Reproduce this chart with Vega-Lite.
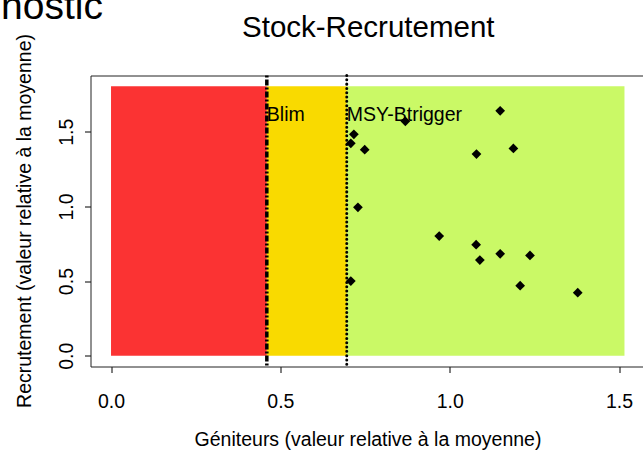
{
  "$schema": "https://vega.github.io/schema/vega-lite/v6.json",
  "autosize": {"type": "none"},
  "padding": {"left": 90.5, "top": 75.5, "right": 0, "bottom": 83.5},
  "width": 552.5,
  "height": 291,
  "background": "white",
  "config": {
    "font": "Liberation Sans",
    "view": {"stroke": null},
    "axis": {"grid": false, "domain": true, "domainColor": "#222222", "domainWidth": 1, "tickColor": "black", "tickSize": 6, "tickWidth": 1, "labelColor": "black", "labelFont": "Liberation Sans", "labelFontSize": 19.5, "titleFont": "Liberation Sans", "titleFontSize": 19.5, "titleFontWeight": "normal", "titleColor": "black"}
  },
  "title": {"text": "Diagnostic", "anchor": "start", "frame": "group", "align": "right", "dx": 12.5, "offset": -45, "fontSize": 39, "fontWeight": "normal", "baseline": "alphabetic", "color": "black", "font": "Liberation Sans"},
  "datasets": {
    "zones": [
      {"zone": "Rouge", "x0": 0, "x1": 0.46, "y0": 0, "y1": 1.805},
      {"zone": "Jaune", "x0": 0.46, "x1": 0.696, "y0": 0, "y1": 1.805},
      {"zone": "Vert", "x0": 0.696, "x1": 1.516, "y0": 0, "y1": 1.805}
    ],
    "refs": [
      {"name": "Blim", "x": 0.46, "label_y": 1.572},
      {"name": "MSY-Btrigger", "x": 0.696, "label_y": 1.572}
    ],
    "points": [
      {"ssb": 1.149, "rec": 1.641},
      {"ssb": 0.869, "rec": 1.570},
      {"ssb": 0.717, "rec": 1.483},
      {"ssb": 0.708, "rec": 1.423},
      {"ssb": 0.749, "rec": 1.380},
      {"ssb": 1.079, "rec": 1.351},
      {"ssb": 1.188, "rec": 1.389},
      {"ssb": 0.729, "rec": 0.994},
      {"ssb": 0.969, "rec": 0.802},
      {"ssb": 1.078, "rec": 0.744},
      {"ssb": 1.089, "rec": 0.641},
      {"ssb": 1.149, "rec": 0.683},
      {"ssb": 1.237, "rec": 0.672},
      {"ssb": 0.708, "rec": 0.500},
      {"ssb": 1.208, "rec": 0.469},
      {"ssb": 1.378, "rec": 0.422}
    ]
  },
  "resolve": {"axis": {"x": "independent", "y": "independent"}},
  "layer": [
    {
      "data": {"name": "zones"},
      "mark": {"type": "rect", "opacity": 1},
      "encoding": {
        "x": {"field": "x0", "type": "quantitative", "scale": {"domain": [-0.0606, 1.5707], "nice": false, "zero": false},
              "axis": {"orient": "bottom", "values": [0, 0.5, 1, 1.5], "format": ".1f", "labelBaseline": "alphabetic", "labelPadding": 34.5, "labelAlign": "center", "labelFlush": false, "labelOverlap": false,
                       "title": "Géniteurs (valeur relative à la moyenne)", "titleX": 277, "titleY": 79, "titleAlign": "center", "titleBaseline": "alphabetic", "titleAnchor": null}},
        "x2": {"field": "x1"},
        "y": {"field": "y0", "type": "quantitative", "scale": {"domain": [-0.0722, 1.8772], "nice": false, "zero": false},
              "axis": {"orient": "left", "values": [0, 0.5, 1, 1.5], "format": ".1f", "labelAngle": 270, "labelAlign": "center", "labelBaseline": "alphabetic", "labelPadding": 12.5, "labelFlush": false, "labelOverlap": false,
                       "title": "Recrutement (valeur relative à la moyenne)", "titleAngle": 270, "titleX": -60.5, "titleY": 145, "titleAlign": "center", "titleBaseline": "alphabetic"}},
        "y2": {"field": "y1"},
        "color": {"field": "zone", "type": "nominal", "scale": {"domain": ["Rouge", "Jaune", "Vert"], "range": ["#FB3333", "#F9DA00", "#CAF966"]}, "legend": null}
      }
    },
    {
      "data": {"name": "refs"},
      "transform": [{"filter": "datum.name === 'Blim'"}],
      "mark": {"type": "rule", "color": "black", "strokeWidth": 3.5, "strokeDash": [2, 2, 6, 2]},
      "encoding": {
        "x": {"field": "x", "type": "quantitative", "scale": {"domain": [-0.0606, 1.5707], "nice": false, "zero": false},
              "axis": {"orient": "top", "ticks": false, "labels": false, "domain": true, "title": "Stock-Recrutement", "titleFontSize": 29.5, "titleX": 277.25, "titleY": -38.8, "titleAlign": "center", "titleBaseline": "alphabetic"}}
      }
    },
    {
      "data": {"name": "refs"},
      "transform": [{"filter": "datum.name === 'MSY-Btrigger'"}],
      "mark": {"type": "rule", "color": "black", "strokeWidth": 3, "strokeCap": "round", "strokeDash": [0.01, 4.3]},
      "encoding": {
        "x": {"field": "x", "type": "quantitative", "scale": {"domain": [-0.0606, 1.5707], "nice": false, "zero": false}, "axis": null}
      }
    },
    {
      "data": {"name": "points"},
      "mark": {"type": "point", "shape": "diamond", "filled": true, "color": "black", "size": 95, "opacity": 1, "strokeWidth": 0},
      "encoding": {
        "x": {"field": "ssb", "type": "quantitative", "scale": {"domain": [-0.0606, 1.5707], "nice": false, "zero": false}, "axis": null},
        "y": {"field": "rec", "type": "quantitative", "scale": {"domain": [-0.0722, 1.8772], "nice": false, "zero": false}, "axis": null}
      }
    },
    {
      "data": {"name": "refs"},
      "mark": {"type": "text", "align": "left", "baseline": "alphabetic", "fontSize": 19.5, "color": "black", "font": "Liberation Sans"},
      "encoding": {
        "x": {"field": "x", "type": "quantitative", "scale": {"domain": [-0.0606, 1.5707], "nice": false, "zero": false}, "axis": null},
        "y": {"field": "label_y", "type": "quantitative", "scale": {"domain": [-0.0722, 1.8772], "nice": false, "zero": false}, "axis": null},
        "text": {"field": "name"}
      }
    }
  ]
}
